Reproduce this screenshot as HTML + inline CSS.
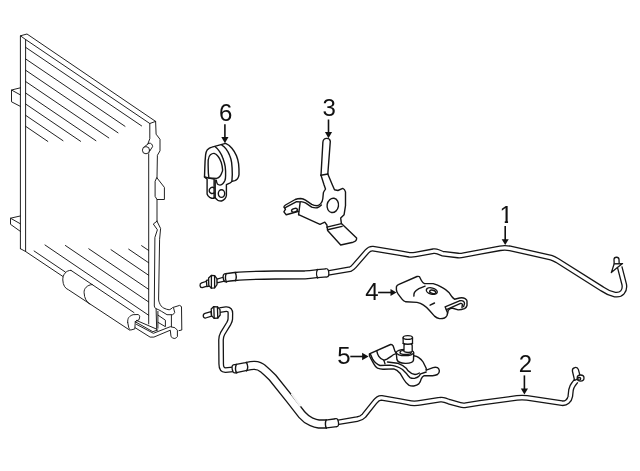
<!DOCTYPE html>
<html><head><meta charset="utf-8"><title>Diagram</title>
<style>
html,body{margin:0;padding:0;background:#fff;}
svg{display:block;will-change:transform;}
text{font-family:"Liberation Sans",sans-serif;font-size:24px;fill:#111;text-anchor:middle;}
.l{fill:none;stroke:#151515;stroke-width:1.4;stroke-linecap:round;stroke-linejoin:round;}
.w{fill:#fff;stroke:#151515;stroke-width:1.3;stroke-linecap:round;stroke-linejoin:round;}
.a{fill:none;stroke:#111;stroke-width:1.6;}
.ah{fill:#111;stroke:none;}
.to{fill:none;stroke:#151515;stroke-linejoin:round;}
.ti{fill:none;stroke:#fff;stroke-linejoin:round;}
</style></head>
<body>
<svg width="640" height="471" viewBox="0 0 640 471">
<rect width="640" height="471" fill="#fff"/>

<!-- ===== condenser ===== -->
<g id="condenser" class="l" style="stroke-width:0.95">
<!-- outline -->
<path d="M20.4,248.7 L20.4,35.8 L27,34 L155.6,121.4 L149.8,123.5 L25.6,39.5 L20.4,35.8"/>
<path d="M25.6,39.5 L25.6,251.5"/>
<path d="M20.4,248.7 L25.6,251.5 L62.8,276.4"/>
<!-- left tabs -->
<path d="M20.4,87.8 L11.5,90 L11.5,101.8 L20.2,106.3 M11.5,90 L20.2,94.8"/>
<path d="M20.2,216 L10.5,218.2 L10.5,224.3 L20.4,231.4 M10.5,218.2 L20.2,223.7"/>
<!-- top hatch -->
<path d="M25.6,47.3 L141.6,125.9 M25.6,58.9 L125,126.3 M25.6,70.2 L118,132.8 M25.6,81.5 L108.8,137.9 M25.6,93 L95.9,140.7 M25.6,104 L80.6,141.3 M25.6,115.3 L63,140.7 M25.6,126.3 L47.8,141.4"/>
<!-- bottom hatch -->
<path d="M141.6,245.7 L148.7,250.5 M128.7,249.2 L148.7,262.8 M111,249.7 L148.7,275.3 M88.8,248.8 L148.7,289.4 M65.4,245.5 L148.7,302 M45,245 L148.7,315.3 M34.1,251 L65.3,272"/>
<!-- right side -->
<path d="M149.8,123.5 L149.8,138.7 L147.9,143.8"/>
<path d="M148.7,153.8 L148.7,323.9"/>
<path d="M155.6,121.3 L156.1,134.2 L160,139.3 L160,150.8 L157.4,155.3 L157,177.9 M157,199.5 L157,221.2"/>
<!-- boss -->
<path d="M143.6,147.4 L149,143.2 C151,142.8 152.6,144.5 152.6,146.6 L148.6,152.8"/>
<circle cx="146" cy="150.2" r="3.6" fill="#fff"/>
<!-- clip -->
<path d="M157,177.9 L164.4,187.4 L164.4,199.5 L157,199.5 L155.1,196.4 L155.1,181.7 Z"/>
<!-- lower strip -->
<path d="M157,221.2 L153.3,224 L157.4,229.8 L154.9,237.4 L154.3,306 C154.6,307.6 155.4,308.4 156.1,308.7 L156.7,330"/>
<path d="M157.9,311.4 L157.9,328.2"/>
<path d="M157,221.2 L160.6,228.5 L159.6,239.3 L158.6,299 C158.6,300.6 158.9,301.8 159.4,302.7 C160.4,305.4 161.8,307.2 163.8,308.1 C165.6,309 167.4,309.6 169.2,309.8 C170.6,309.4 171.6,308.6 172.5,307.6 L179.6,305.4 C180.6,305.6 181.2,306.2 181.5,307 L181.8,330 L179.1,330.6"/>
<path d="M156.1,308.7 C158,309.4 159.8,310.2 161.6,311.4 L167,314.7 L172.5,314.7 C173.6,314.2 174.4,313.4 174.7,312.5 L173.6,308.1"/>
<path d="M171.4,315.2 L171.4,326.7"/>
<path d="M158.1,315.2 L165.4,320.2 L165.4,326.7 L158.1,322.4"/>
<!-- drier cylinder -->
<path d="M71,270.4 C66,270 62.5,275 62.8,280 C63,285 65,288.5 68.5,289.8 L129.8,330.2"/>
<path d="M71,270.4 L134,312.6"/>
<path d="M92.3,284.5 C87,285 83.8,288.5 84.1,292.7 C84.3,298 86.5,302.3 90,304.2"/>
<!-- end cap -->
<path d="M127.7,322.4 C127.6,320.2 128,318.4 128.8,317.4 C130,316 131.4,315.2 133.1,314.7 L138.1,314.5 C139.2,315 139.8,315.8 139.7,316.9 L139.1,319.6 L135.3,321.6"/>
<path d="M127.7,322.4 L128.8,327.8 C129.4,329 130,329.8 130.9,330 L134.8,328.9 L135.3,321.6"/>
<!-- base bracket -->
<path d="M136.4,320.4 L156.1,328.9"/>
<path d="M135.3,321.8 L152.8,331.7 L157.7,330"/>
<path d="M136.4,324.3 L153.4,333.3 L170.3,326.7 L174.9,327.7 L177.4,330.2 L177.4,336.6 C176.6,337.8 175.4,338.4 174.2,338.5 C173,338.2 171.8,337.6 171,336.6 L170.3,330.2 L153.9,337.1 L150.1,337.1 L135.3,327.8"/>
</g>

<!-- ===== tube 1 ===== -->
<g id="tube1">
<path class="w" d="M216.3,279.3 L224,277 L224.4,281.2 L216.9,282.9 Z"/>
<path class="to" stroke-width="5.8" d="M328,273 L350.3,269.1 C352,268.6 353,267.4 354.6,265.6 L367,251.4 C368.4,249.8 370.6,248.4 372.8,248.6 L400,253.1 L409.4,254.8 C411.4,255.1 413.4,254.9 415.4,254.5 L433.4,251.2 C435,251 436.6,251.2 438,251.8 L442.4,253.6 L458,255.5 C460,255.7 462,255.4 464,255 L480,252 L500,248.3 C503,247.7 507,247.7 510,248.4 L551,257.6 C553,258.2 555,259.2 557,260.4 L602,288.8 C606,291.6 610,293.6 615,294.6 C618,295 620.6,294.4 622.4,292.4 C624.4,290.2 624.8,287.6 624.2,284.4 L619.7,267"/>
<path class="ti" stroke-width="3.2" d="M328,273 L350.3,269.1 C352,268.6 353,267.4 354.6,265.6 L367,251.4 C368.4,249.8 370.6,248.4 372.8,248.6 L400,253.1 L409.4,254.8 C411.4,255.1 413.4,254.9 415.4,254.5 L433.4,251.2 C435,251 436.6,251.2 438,251.8 L442.4,253.6 L458,255.5 C460,255.7 462,255.4 464,255 L480,252 L500,248.3 C503,247.7 507,247.7 510,248.4 L551,257.6 C553,258.2 555,259.2 557,260.4 L602,288.8 C606,291.6 610,293.6 615,294.6 C618,295 620.6,294.4 622.4,292.4 C624.4,290.2 624.8,287.6 624.2,284.4 L619.7,267 l-0.3,-1"/>
<path class="to" stroke-width="9.3" d="M225.4,277.8 C228,277.3 232,276.8 235,276.5 C245,275.6 260,275.2 275,275 C290,274.9 300,274.9 305,274.8 C310,274.5 314,274 317.5,273.6 L326.6,272.9"/>
<ellipse class="w" cx="326.6" cy="272.9" rx="2.2" ry="4" transform="rotate(-5 326.6 272.9)"/>
<ellipse class="w" cx="225.4" cy="277.8" rx="2.2" ry="4" transform="rotate(-8 225.4 277.8)"/>
<path class="ti" stroke-width="6.7" d="M225.4,277.8 C228,277.3 232,276.8 235,276.5 C245,275.6 260,275.2 275,275 C290,274.9 300,274.9 305,274.8 C310,274.5 314,274 317.5,273.6 L326.6,272.9 l0.5,0"/>
<g class="l">
<path d="M226.2,273.6 C225,276 225.2,280 226.6,282"/>
<path d="M235.2,272.4 C236.4,275 236.4,278.6 235.4,280.8"/>
<path d="M317.5,269.4 C316.2,272 316.4,276 317.7,278"/>
</g>
<g class="w">
<!-- tip -->
<path d="M207.4,281 L201.6,282.9 C199.2,283.8 199.6,287.8 202.2,287.6 L208,285.8 Z"/>
<!-- step -->
<path d="M206.4,280.4 L208.9,279.8 L209.4,286.2 L206.9,286.6 Z"/>
<!-- nut -->
<path d="M208.6,278 L211.4,275.4 L214.6,275.6 L216.9,278.6 L217,284.6 L214.6,287.8 L211.4,288.2 L208.8,285.4 Z"/>
<path d="M211.4,275.4 L211.4,288.2 M214.6,275.6 L214.6,287.8"/>
</g>
<!-- right end fitting -->
<g class="w">
<path d="M614.2,264 L614,259.6 C614,256.6 618.8,256.4 619,259.4 L619.2,264 Z"/>
<path d="M614.2,263.8 L622.6,263.6 L617.4,267.6 L611.3,272.6 Z"/>
</g>
</g>

<!-- ===== tube 2 ===== -->
<g id="tube2">
<path class="to" stroke-width="5.8" d="M337,422.5 L357,419.2 C360,418.6 362.4,417.4 364,415.6 L375,401.8 C376.6,399.6 379,397.6 381.6,397.8 L400,401 L408,402.5 C412,403.6 417,403.4 421,402.6 L440,399.7 C441.6,399.4 443.4,399.6 445,400.2 L448.75,401.6 L460,404.8 C462,405.4 464,405.5 466,405.1 L480,402.8 L517,397.9 C520,397.5 524,397.5 527,397.9 L562,403.2 C564.4,403.4 566,402.8 567.4,401.6 C569,400.2 570,398.6 570.3,396.4 L571,390 C571.6,387.4 572.4,385.6 573.4,384.4 L576,381"/>
<path class="ti" stroke-width="3.2" d="M337,422.5 L357,419.2 C360,418.6 362.4,417.4 364,415.6 L375,401.8 C376.6,399.6 379,397.6 381.6,397.8 L400,401 L408,402.5 C412,403.6 417,403.4 421,402.6 L440,399.7 C441.6,399.4 443.4,399.6 445,400.2 L448.75,401.6 L460,404.8 C462,405.4 464,405.5 466,405.1 L480,402.8 L517,397.9 C520,397.5 524,397.5 527,397.9 L562,403.2 C564.4,403.4 566,402.8 567.4,401.6 C569,400.2 570,398.6 570.3,396.4 L571,390 C571.6,387.4 572.4,385.6 573.4,384.4 L576,381 l0.6,-0.8"/>
<path class="to" stroke-width="5.8" d="M219.6,310.2 L226,309.2 C229.4,309 230.4,310.6 230.4,313.6 L230.3,319 C230.2,320.6 229.6,322 228.8,323.4 L222.6,333.6 C221.6,335.4 221,337.6 221,340 L221.2,364 C221.2,367.4 222.6,370 225.4,370.2 L233,369.3"/>
<path class="ti" stroke-width="3.2" d="M218,310.5 219.6,310.2 L226,309.2 C229.4,309 230.4,310.6 230.4,313.6 L230.3,319 C230.2,320.6 229.6,322 228.8,323.4 L222.6,333.6 C221.6,335.4 221,337.6 221,340 L221.2,364 C221.2,367.4 222.6,370 225.4,370.2 L233,369.3 l1,-0.1"/>
<path class="to" stroke-width="9.3" d="M234.4,368.9 L246.25,366.5 C250,365.6 252,365.2 254.4,365.3 C258,365.4 261,366.8 263.1,368.75 C266,371.2 269.6,374.6 272.5,377.5 L290,399.4 L301.9,414.7 C305,418.2 308,420.4 311.25,421.75 C314,423 316.6,423.8 318.75,424 L326.25,424 L336.3,422.7"/>
<ellipse class="w" cx="336.3" cy="422.7" rx="2.2" ry="4" transform="rotate(-8 336.3 422.7)"/>
<ellipse class="w" cx="234.4" cy="368.9" rx="2.2" ry="4" transform="rotate(-11 234.4 368.9)"/>
<path class="ti" stroke-width="6.7" d="M234.4,368.9 L246.25,366.5 C250,365.6 252,365.2 254.4,365.3 C258,365.4 261,366.8 263.1,368.75 C266,371.2 269.6,374.6 272.5,377.5 L290,399.4 L301.9,414.7 C305,418.2 308,420.4 311.25,421.75 C314,423 316.6,423.8 318.75,424 L326.25,424 L336.3,422.7 l0.5,-0.05"/>
<path d="M291.6,393.6 L300.6,406.4" stroke="#f4f4f4" stroke-width="2.2" fill="none"/>
<g class="l">
<path d="M236.4,364.4 C235,367 235.2,371 236.8,373"/>
<path d="M246.4,362.4 C247.8,365 247.8,369 246.6,371"/>
<path d="M326.25,419.8 C325,422.4 325.2,426.4 326.4,428.2"/>
</g>
<g class="w">
<!-- tip -->
<path d="M211,311.6 L205,313.4 C202.4,314.2 202.8,318.4 205.6,318 L211.6,316.2 Z"/>
<!-- nut -->
<path d="M211.2,309 L213.8,306.6 L217.4,306.8 L220,309.6 L220.2,315 L217.8,318 L214.2,318.4 L211.6,315.8 Z"/>
<path d="M213.8,306.6 L214.2,318.4 M217.4,306.8 L217.8,318"/>
<!-- right fitting -->
<path d="M574.6,380.4 L572.4,371 C572,367 577.4,366.2 578.4,369.6 L580.6,377.6 Z"/>
<ellipse cx="580.6" cy="378.1" rx="3.4" ry="3.1"/>
<ellipse cx="579.2" cy="378.8" rx="1.5" ry="1.3"/>
</g>
</g>

<!-- ===== part 6 ===== -->
<g id="p6" class="l">
<path d="M204.8,168 C204.9,163 205.2,158.6 205.6,154.9 C205.9,152.6 206.5,150.9 207.4,149.7 C208.6,148.4 210.2,147.5 211.9,147.1 L225.6,143.3 C228.2,144.4 230.2,146.2 231.9,148.2 C233.8,150.4 235.2,153 236.4,155.6 C237.6,158.4 238.2,161.2 238.6,163.8 C239,167.4 239.1,171 239,174.7 C238.8,176.4 238.3,177.8 237.5,178.8 C236.8,179.6 236,180.2 234.9,180.6 L231.9,181.4 C231.2,182.2 230.5,182.8 229.7,183.2 L226.4,184.7 L226.4,195.5 C226.2,196.8 225.7,197.9 224.9,198.8 C223.9,199.9 222.8,200.6 221.5,201 C220.2,201.1 219,200.8 217.8,200.3 C216.8,199.6 216,198.7 215.2,197.7 L214.1,197.7 L213.7,198.4 C212.2,198.4 210.9,198 209.7,197.3 C208.4,196.5 207.5,195.4 207.1,194 L207.1,179.1 L204.5,176.9 Z"/>
<path d="M215.2,146.7 C217,148 218.4,149.6 219.3,151.1 C221,153.6 222.2,156 223,158.6 C224,161.4 224.8,164 225.2,166.7 C225.6,169.6 225.7,172.6 225.6,175.4 C225.6,177.4 225.4,179.2 224.9,180.6 C224.4,181.8 223.8,182.8 223,183.6 C222,184.6 221,185 220,185.1 C219,185 218.1,184.6 217.4,184 C216.8,183 216.4,181.6 216.3,180.3"/>
<path d="M221.9,145.2 C223.6,146.2 225,147.6 226,148.9 C227.6,151 228.8,153.2 229.7,155.6 C230.6,157.8 231.2,160 231.6,162.3 C232.1,166.2 232.3,170.4 232.3,174.6 L231.9,181.4"/>
<path d="M208.9,178 C208.4,175 208.2,171.6 208.2,168 C208.1,165 208.1,162.4 208.2,160 C208.5,157.6 209.2,155.8 210.4,154.8 C211.6,153.8 212.8,153.3 214.1,153.4 C215.6,153.8 216.8,154.8 217.8,156 C219.4,157.8 220.4,160 221.2,162.3 C221.9,164.6 222.4,167.2 222.6,169.7 C222.7,170.8 222.4,171.6 221.9,172.5 C221.4,174 220.8,175.2 220,176.2 C219,177.4 218,178 216.7,178.4 L208.9,178"/>
<path d="M204.5,176.9 L208.9,178 L214.1,179.1 L214.1,197.7"/>
<path d="M215.2,179.9 L215.2,197.7"/>
<path d="M214.1,187.8 C213,187.1 211.8,187.1 210.8,187.8 C209.6,188.7 209,189.9 209.2,191.2 C209.4,192.4 210.2,193.2 211.4,193.5 C212.4,193.6 213.3,193.4 214.1,192.9"/>
<ellipse cx="221.5" cy="193.6" rx="3.2" ry="3.8"/>
</g>

<!-- ===== part 3 ===== -->
<g id="p3" class="l">
<path d="M321,175.2 L322.9,142 C323.4,137.4 329.8,137.2 330.3,141.4 L327.8,174"/>
<path d="M321,175.2 L324.1,185 L325.5,189.1 C324.4,190.4 323.8,191.4 323.4,192.6 L322.8,198.8 C322.6,200.8 321.8,202.4 320.7,203.6 C319.6,204.8 318.4,205.5 317.2,205.7 C315.4,205.6 313.4,205.2 311.7,204.3 L305.5,200.2 C304,199.2 302.4,198.6 300.7,198.5 C298.8,198.5 297,198.8 295.2,199.5 L285.5,205 C284.6,205.6 284,206.3 283.9,207.1 L285.5,209.1 L283.9,211.9 L286.2,214.7 L291.7,213.3 L298.6,211.4"/>
<path d="M298.6,214.7 L320,224.3 L324.8,222.2 L326.9,225 L327.6,230.5 L340.7,245 L353.1,242.2 C355.4,241.4 356.8,239.8 356.6,238.1 L341.4,223.6 L340.7,218.1 L344.1,214.7 L345.5,205.7 L345.5,191.9 C345,190 344,188.8 342.8,188.4 L337.9,190.5 L334.5,189.8 L332.4,185 L327.8,174"/>
<path d="M321,175.2 L327.8,174"/>
<path d="M326.9,227.1 L341.4,223.6 M327.6,229.8 L342.1,226.4"/>
<path d="M284.8,207.8 L296.6,201.6 L300.2,202 L298.6,214.7"/>
<path d="M300.7,201.6 C302.4,201.8 304,202.2 305.5,202.9 L311.7,207.1 C313.6,207.8 315.4,208 317.2,207.8 C318.8,207.2 320.2,206.2 321.4,205"/>
<ellipse cx="332.8" cy="205.4" rx="5.7" ry="7.2" transform="rotate(10 332.8 205.4)"/>
<ellipse cx="294.5" cy="210.2" rx="3" ry="1.7" transform="rotate(-15 294.5 210.2)"/>
</g>

<!-- ===== part 4 ===== -->
<g id="p4" class="l">
<path d="M396.4,286.8 C396.8,285.6 397.4,285 398.4,284.6 L417,276.5 C418.2,276.2 419,276.3 419.5,276.8 L421.4,280.5 C422.2,282 423.2,283 424.5,283.6 L433.2,283.6 C436.4,284.4 439.4,285.8 442,287.4 C444.6,288.8 447,290.4 448.9,292.4 L452,296.8 C452.8,297.8 453.6,298.6 454.5,299.2 L459.5,298 C462,297.6 464,298 465.1,298.6 C466.4,299.4 467,300.2 467,301.1 L467,305.5 C466.6,307 465.8,308 464.5,308.6 C462.4,309.4 460.4,309.8 458.2,309.9 L452,308 C450.4,308.4 449,309.2 448.2,310.5 L447,315.5 C446.4,316.8 445.6,317.6 444.5,318 C442.8,318.6 441.2,318.8 439.5,318.6 C437.6,318.2 436,317.4 434.5,316.1 L429.5,310.5 C427.6,308.4 425.6,306.4 423.2,304.9 C421.4,303.6 419.2,302.8 417,302.4 L405.8,301.8 C404.4,301.4 403,300.6 402,299.2 L398.2,294.2 C397.2,292.8 396.6,291.4 396.4,289.9 Z"/>
<path d="M413.9,296.1 C413.8,294.6 414,293.4 414.5,292.4 C415.4,290.8 417,289.6 418.9,288.6 L425.1,286.1"/>
<path d="M430.1,305.2 L434.5,303"/>
<ellipse cx="431.8" cy="291.1" rx="5.6" ry="3.1" transform="rotate(14 431.8 291.1)"/>
<ellipse cx="432.7" cy="291.8" rx="3.1" ry="1.6" transform="rotate(14 432.7 291.8)"/>
<path d="M447.6,313 L445.1,306.8 L459.5,300.8 C461.4,300.4 462.6,300.6 463.2,301.1 C464.2,301.8 464.6,302.6 464.5,303.6 L463.6,306.6"/>
<path d="M446.4,309.6 L460.6,303.4 C461.6,303.2 462.2,303.6 462.4,304.4 L462,307.6"/>
</g>

<!-- ===== part 5 ===== -->
<g id="p5" class="l">
<path d="M396.2,353.2 L395,351.4 L393.1,345.8 C392.4,344.6 391.6,344.3 390.6,344.5 L369.4,353.9 C369.2,355 369.4,356 370,357 L373.8,363.9 C374.8,365.8 376,367.4 377.5,368.2 C379.4,369 381.6,369.3 383.8,369.2 L393.8,368.9 C396.2,369.6 398.4,371.4 400,373.2 L403.8,379.5 C405.2,381.8 406.8,383.8 408.8,385.1 C410.4,386 412,386.2 413.8,386 C415.6,385.6 417.4,385 418.8,383.9 C420,382.6 420.8,380.8 421.2,378.9 C421.8,377.4 422.6,376.2 423.8,375.8 L432.5,375.8 C434.4,375.6 436,375.2 437.5,374.5 C438.8,373.6 439.4,372.2 439.4,370.8 C439.2,369.4 438.6,368.2 437.5,367.6 C436,367.2 434.6,367.2 433.1,367.6 L426.2,370.1"/>
<path d="M413.8,355.8 C415.6,356 417.4,356.6 418.8,357.6 C420.6,358.8 422,360.2 423.1,362 L426.2,368.2 L426.2,370.1"/>
<path d="M370.6,354.6 L372.5,358.9 C373.4,360.6 374.8,362.2 376.2,363.2 C377.4,364.2 378.6,365 380,365.5 L390,365.1 C392.2,365.2 394.2,365.6 396.2,366.4 C398.6,367.2 400.6,368.2 402.5,369.5 L406.2,373.2 C407.4,375 408.6,376.6 410,377.6 C411.6,378.4 413.4,378.6 415,378.2 C416.4,377.8 417.6,377.2 418.8,376.4 L420.6,373.9 L426.2,372"/>
<path d="M387.5,362 L397.5,363.2 C400.8,364.4 403.8,366.2 406.2,368.2 L408.1,370.8 C410,372.8 412.4,374.2 415,374.5 C416.6,374.4 418,373.8 419.4,373"/>
<path d="M376.9,351.4 C377.2,353.2 377.8,354.9 378.8,356.4 C380,358.2 381.8,359.6 383.8,360.1 C384.8,360.2 385.8,359.8 386.9,359.2 L391.9,355.8 C393,354.9 394.2,354.2 395.6,353.9"/>
<path d="M383.8,360.1 L385,363.9"/>
<!-- nut -->
<path d="M396.3,353 L396.9,359.5 C398,364.4 412.4,364.6 413.5,360.1 L413.7,353"/>
<ellipse class="w" cx="405" cy="352.6" rx="8.7" ry="3.1"/>
<ellipse cx="405.6" cy="352.4" rx="5.6" ry="2"/>
<!-- stud -->
<path class="w" d="M404,351.6 L404,345.4 L404.6,344.4 L403.2,343.4 L403.1,337.6 C403.2,335 412.4,335 412.5,337.6 L412.5,343.4 L411.4,344.4 L412.2,345.4 L412.2,351.6 C410.6,352.8 405.6,352.8 404,351.6 Z"/>
<path d="M403.1,338 C404,339.8 411.6,339.8 412.5,338"/>
<path d="M403.2,343.4 C405,344.6 410.6,344.6 412.5,343.4"/>
</g>

<!-- ===== labels ===== -->
<text x="225.7" y="120.7">6</text>
<text x="329.1" y="116.1">3</text>
<text x="506.2" y="222.6">1</text>
<path d="M500,220.2 H504.75 V224 H500 Z M508.05,220.2 H513 V224 H508.05 Z" fill="#fff"/>
<text x="525.5" y="372">2</text>
<text x="371.9" y="300">4</text>
<text x="344" y="364.2">5</text>
<g class="a">
<path d="M224.9,124.2 V138"/>
<path d="M328.5,119.5 V133"/>
<path d="M505.2,226.1 V240.5"/>
<path d="M524.4,375.4 V390"/>
<path d="M378.1,292.5 H392"/>
<path d="M350.3,356.5 H363.5"/>
</g>
<g class="ah">
<path d="M224.9,143.2 L221.3,136.9 L228.5,136.9 Z"/>
<path d="M328.5,138.3 L324.9,131.9 L332.1,131.9 Z"/>
<path d="M505.2,244.9 L501.7,239.3 L508.7,239.3 Z"/>
<path d="M524.4,394.4 L520.8,388.6 L528,388.6 Z"/>
<path d="M396.5,292.5 L390.5,289 L390.5,296 Z"/>
<path d="M368.6,356.5 L362.1,352.8 L362.1,360.2 Z"/>
</g>
</svg>
</body></html>
